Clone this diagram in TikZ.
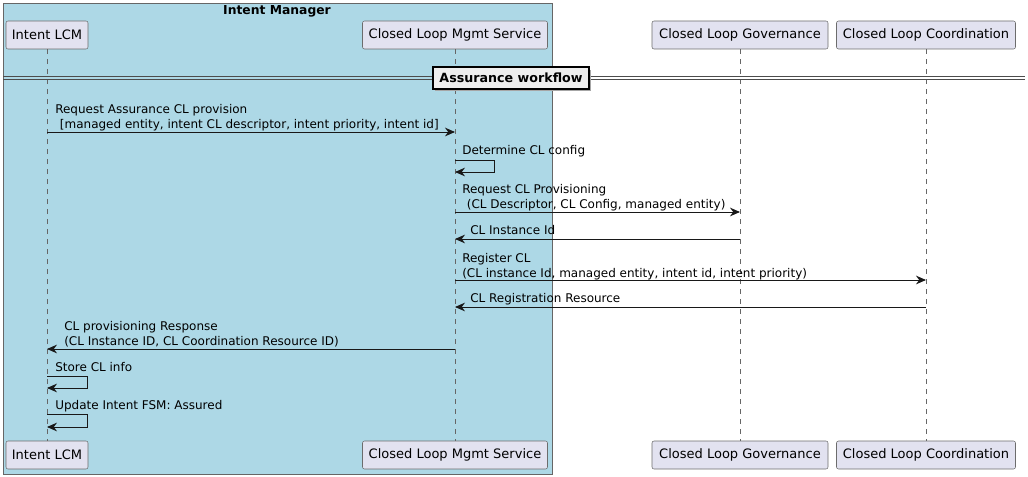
\documentclass[tikz,border=0pt]{standalone}
\usepackage{fontspec}
\setmainfont{DejaVu Sans}
\usetikzlibrary{arrows.meta,positioning}
\definecolor{grpblue}{HTML}{ADD8E6}
\definecolor{partfill}{HTML}{E2E2F0}
\definecolor{inkline}{HTML}{181818}
\tikzset{party/.style={draw=gray!85!black,fill=partfill,rounded corners=1.5pt,minimum height=21pt,inner xsep=0pt,font=\fontsize{9.75}{12}\selectfont},
    lifeline/.style={draw=gray!80!black,dash pattern=on 3.75pt off 3.75pt,line width=0.4pt},
    msg/.style={draw=inkline,line width=0.7pt,-{Stealth[length=7.5pt,width=6.5pt,inset=2.4pt]}},
    msglabel/.style={anchor=base west,inner sep=0pt,align=left,font=\fontsize{9}{11.25}\selectfont},
    divline/.style={draw=gray!60!black,line width=0.6pt},
    divbox/.style={draw=black,line width=1.4pt,fill=gray!13,minimum width=117pt,minimum height=16pt,inner sep=0pt,font=\bfseries\fontsize{9.5}{12}\selectfont}}

\begin{document}
\begin{tikzpicture}[x=0.75pt,y=-0.75pt]
\useasboundingbox (0,0) rectangle (1028,477);

\draw [fill=grpblue,draw=gray!80!black] (3,3) rectangle (552,474);
\node (grp title) [font=\bfseries\fontsize{9.25}{12}\selectfont] at (277,11) {Intent Manager};

\node (lcm top)   [party,minimum width=61.5pt]  at ( 47,35) {Intent LCM};
\node (mgmt top)  [party,minimum width=138.75pt] at (455,35) {Closed Loop Mgmt Service};
\node (gov top)   [party,minimum width=132pt]   at (740,35) {Closed Loop Governance};
\node (coord top) [party,minimum width=134.25pt] at (926,35) {Closed Loop Coordination};

\node (lcm bot)   [party,minimum width=61.5pt]  at ( 47,455) {Intent LCM};
\node (mgmt bot)  [party,minimum width=138.75pt] at (455,455) {Closed Loop Mgmt Service};
\node (gov bot)   [party,minimum width=132pt]   at (740,455) {Closed Loop Governance};
\node (coord bot) [party,minimum width=134.25pt] at (926,455) {Closed Loop Coordination};

\draw [lifeline] (lcm top) -- (lcm bot);
\draw [lifeline] (mgmt top) -- (mgmt bot);
\draw [lifeline] (gov top) -- (gov bot);
\draw [lifeline] (coord top) -- (coord bot);

\draw [divline] (3,76) -- (1025,76);
\draw [divline] (3,79) -- (1025,79);
\fill [gray!70] (435,70) rectangle (591,91);
\node (div) [divbox] at (511,78) {Assurance workflow};

\node (m1 label) [msglabel] at (55,129) {Request Assurance CL provision\\\hspace*{3.5pt}{[}managed entity, intent CL descriptor, intent priority, intent id{]}};
\draw [msg] (lcm top |- 0,132) -- (mgmt top |- 0,132);

\node (m2 label) [msglabel] at (462,155) {Determine CL config};
\draw [msg] (mgmt top |- 0,160) -- ++(39,0) -- ++(0,12) -- (mgmt top |- 0,172);

\node (m3 label) [msglabel] at (462,209) {Request CL Provisioning\\\hspace*{3.5pt}(CL Descriptor, CL Config, managed entity)};
\draw [msg] (mgmt top |- 0,212) -- (gov top |- 0,212);

\node (m4 label) [msglabel] at (470,235) {CL Instance Id};
\draw [msg] (gov top |- 0,239) -- (mgmt top |- 0,239);

\node (m5 label) [msglabel] at (462,277) {Register CL\\(CL instance Id, managed entity, intent id, intent priority)};
\draw [msg] (mgmt top |- 0,280) -- (coord top |- 0,280);

\node (m6 label) [msglabel] at (470,303) {CL Registration Resource};
\draw [msg] (coord top |- 0,307) -- (mgmt top |- 0,307);

\node (m7 label) [msglabel] at (64,345) {CL provisioning Response\\(CL Instance ID, CL Coordination Resource ID)};
\draw [msg] (mgmt top |- 0,349) -- (lcm top |- 0,349);

\node (m8 label) [msglabel] at (55,371) {Store CL info};
\draw [msg] (lcm top |- 0,376) -- ++(40,0) -- ++(0,12) -- (lcm top |- 0,388);

\node (m9 label) [msglabel] at (55,409) {Update Intent FSM: Assured};
\draw [msg] (lcm top |- 0,414) -- ++(40,0) -- ++(0,13) -- (lcm top |- 0,427);

\end{tikzpicture}
\end{document}
